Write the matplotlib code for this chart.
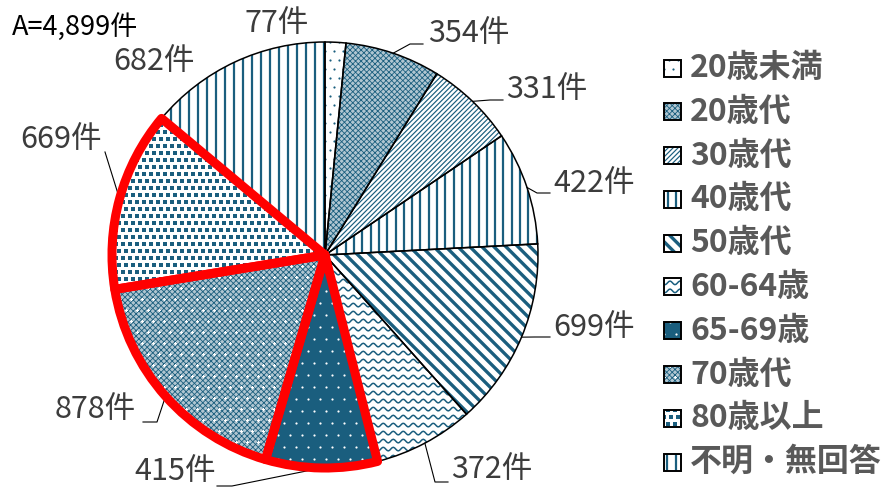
import numpy as np
import matplotlib
matplotlib.use("Agg")
import matplotlib.pyplot as plt
from matplotlib.patches import Wedge, Rectangle
from matplotlib.collections import LineCollection

plt.rcParams["font.family"] = ["Noto Sans CJK JP", "DejaVu Sans"]
plt.rcParams["hatch.linewidth"] = 0.6

# ---- data -------------------------------------------------------------------
groups = ["20歳未満", "20歳代", "30歳代", "40歳代", "50歳代",
          "60-64歳", "65-69歳", "70歳代", "80歳以上", "不明・無回答"]
counts = [77, 354, 331, 422, 699, 372, 415, 878, 669, 682]
highlight = ["65-69歳", "70歳代", "80歳以上"]

# ---- layout (pixel units, y down) -------------------------------------------
W, H = 884, 488
CX, CY, R = 325, 255, 213
TEAL = "#1a5e7e"; TXT = "#3c3c3c"; LEG = "#595959"; CHECK = "#b0c6d1"
LABEL_XY = [(245, 24), (428, 33), (506, 90), (553, 183), (553, 327),
            (451, 470), (134, 472), (55, 410), (20, 140), (113, 62)]
LEADERS = {1: [(410, 44), (423, 44)], 2: [(490, 100), (503, 100)],
           3: [(537, 193), (550, 193)], 4: [(535, 337), (550, 337)],
           5: [(435, 482), (448, 482)], 6: [(232, 486), (217, 486)],
           7: [(157, 422), (143, 422)], 8: [(105, 152)]}
LEG_X, LEG_Y = 664, np.linspace(68, 462, len(groups))

# texture per group: (kind, params)
TEX = {
    "20歳未満": [("dots", dict(step=9, size=2.2, color=TEAL))],
    "20歳代":   [("hatch", dict(hatch="xxxxxx"))],
    "30歳代":   [("lines", dict(angle=-45, step=3.5, lw=0.85))],
    "40歳代":   [("lines", dict(angle=90, step=8.3, lw=1.6))],
    "50歳代":   [("lines", dict(angle=45, step=8.5, lw=2.4))],
    "60-64歳":  [("lines", dict(angle=0, step=8, lw=1.1, amp=1.8, wl=10))],
    "65-69歳":  [("dots", dict(step=12, size=2.2, color="white"))],
    "70歳代":   [("hatch", dict(hatch="xxxxxx")),
                 ("dots", dict(step=11, size=3, color="white", marker="P"))],
    "80歳以上": [("dots", dict(step=7, size=4.2, color=TEAL, marker="s"))],
    "不明・無回答": [("lines", dict(angle=90, step=9, lw=1.6))],
}
FACE = {"65-69歳": TEAL, "20歳代": CHECK, "70歳代": CHECK}


def lines(ax, clip, box, angle, step, lw, amp=0, wl=10):
    x0, y0, x1, y1 = box
    cx, cy = (x0 + x1) / 2, (y0 + y1) / 2
    L = np.hypot(x1 - x0, y1 - y0) / 2 + step
    a = np.deg2rad(angle)
    d = np.array([np.cos(a), np.sin(a)]); n = np.array([-d[1], d[0]])
    t = np.linspace(-L, L, int(2 * L / 1.2) + 2) if amp else np.array([-L, L])
    segs = []
    for off in np.arange(-L, L + step, step):
        pts = np.c_[cx + t * d[0] + off * n[0], cy + t * d[1] + off * n[1]]
        if amp:
            pts = pts + np.outer(amp * np.sin(2 * np.pi * t / wl), n)
        segs.append(pts)
    lc = LineCollection(segs, colors=TEAL, linewidths=lw, zorder=2)
    ax.add_collection(lc); lc.set_clip_path(clip)


def dots(ax, clip, box, step, size, color, marker="o"):
    x0, y0, x1, y1 = box
    pts = [(x, y) for i, y in enumerate(np.arange(y0 - step, y1 + step, step))
           for x in np.arange(x0 - step + (step / 2) * (i % 2), x1 + step, step)]
    pts = np.array(pts)
    sc = ax.scatter(pts[:, 0], pts[:, 1], s=(size * 0.72) ** 2, marker=marker,
                    c=color, linewidths=0, zorder=2)
    sc.set_clip_path(clip)


def texture(ax, clip, box, g, copy):
    for kind, kw in TEX[g]:
        if kind == "lines":
            lines(ax, clip, box, **kw)
        elif kind == "dots":
            dots(ax, clip, box, **kw)
        else:
            p = copy(); p.set(facecolor="none", edgecolor=TEAL, lw=0, hatch=kw["hatch"], zorder=1.5)
            ax.add_patch(p)


fig = plt.figure(figsize=(W / 100, H / 100), dpi=100)
ax = fig.add_axes([0, 0, 1, 1])
wedges, _ = ax.pie(counts, startangle=-90, counterclock=True, center=(CX, CY), radius=R,
                   wedgeprops=dict(facecolor="white", edgecolor="none"))
ax.set_xlim(0, W); ax.set_ylim(H, 0); ax.set_aspect("equal"); ax.axis("off")

for g, w in zip(groups, wedges):
    w.set_facecolor(FACE.get(g, "white"))
    e = w.get_path().get_extents()
    mk = lambda w=w: Wedge(w.center, w.r, w.theta1, w.theta2)
    texture(ax, w, (e.x0, e.y0, e.x1, e.y1), g, mk)
    ax.add_patch(Wedge(w.center, w.r, w.theta1, w.theta2, fill=False,
                       edgecolor="black", lw=1.1, zorder=3))

for g, w in zip(groups, wedges):
    if g in highlight:
        ax.add_patch(Wedge(w.center, w.r, w.theta1, w.theta2, fill=False,
                           edgecolor="#ff0000", lw=6.5, joinstyle="round", zorder=4))

# labels + leader lines
for i, (v, w) in enumerate(zip(counts, wedges)):
    x, y = LABEL_XY[i]
    ax.text(x, y, f"{v}件", ha="left", va="center", fontsize=22, color=TXT, zorder=5)
    if i in LEADERS:
        m = np.deg2rad((w.theta1 + w.theta2) / 2)
        pts = [(CX + R * np.cos(m), CY + R * np.sin(m))] + LEADERS[i]
        xs, ys = zip(*pts)
        ax.plot(xs, ys, color="black", lw=0.8, zorder=3)

ax.text(12, 27, f"A={sum(counts):,}件", ha="left", va="center", fontsize=19.5, color="black")

# legend (drawn by hand so the textures match the slices)
S = 17
for g, ly in zip(groups, LEG_Y):
    rect = Rectangle((LEG_X, ly - S / 2), S, S, facecolor=FACE.get(g, "white"),
                     edgecolor="none", zorder=1)
    ax.add_patch(rect)
    mk = lambda ly=ly: Rectangle((LEG_X, ly - S / 2), S, S)
    texture(ax, rect, (LEG_X, ly - S / 2, LEG_X + S, ly + S / 2), g, mk)
    ax.add_patch(Rectangle((LEG_X, ly - S / 2), S, S, fill=False, edgecolor="black",
                           lw=1.4, zorder=3))
    ax.text(LEG_X + S + 9, ly, g, ha="left", va="center", fontsize=23,
            fontweight="bold", color=LEG)

fig.savefig("out.png", dpi=100)
